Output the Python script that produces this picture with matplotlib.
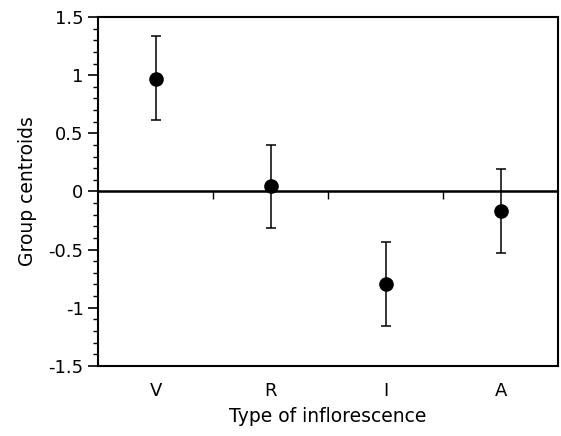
#!/usr/bin/env python3
"""Group centroids by type of inflorescence, with error bars."""

import matplotlib

matplotlib.use("Agg")
import matplotlib.pyplot as plt
from matplotlib.ticker import MultipleLocator, NullFormatter

categories = ["V", "R", "I", "A"]
centroids = [0.97, 0.05, -0.80, -0.17]
upper = [1.335, 0.40, -0.435, 0.195]
lower = [0.61, -0.315, -1.16, -0.53]


def main() -> int:
    positions = list(range(1, len(categories) + 1))
    err_low = [c - lo for c, lo in zip(centroids, lower)]
    err_high = [hi - c for c, hi in zip(centroids, upper)]

    fig = plt.figure(figsize=(5.61, 4.36), dpi=100)
    ax = fig.add_axes((0.175, 0.161, 0.82, 0.80))

    ax.axhline(0, color="black", linewidth=1.8, zorder=1)
    ax.errorbar(
        positions,
        centroids,
        yerr=[err_low, err_high],
        fmt="o",
        color="black",
        markersize=9.5,
        elinewidth=1.1,
        capsize=3.5,
        capthick=1.1,
        zorder=3,
    )

    ax.set_xlim(0.5, len(categories) + 0.5)
    ax.set_ylim(-1.5, 1.5)
    ax.yaxis.set_major_locator(MultipleLocator(0.5))
    ax.yaxis.set_minor_locator(MultipleLocator(0.1))
    ax.set_yticklabels([f"{v:g}" for v in ax.get_yticks()])
    ax.tick_params(axis="y", which="major", direction="out", length=7, width=1.2, labelsize=13)
    ax.tick_params(axis="y", which="minor", direction="out", length=3.5, width=1)

    ax.set_xticks(positions)
    ax.set_xticklabels(categories)
    ax.tick_params(axis="x", length=0, pad=12, labelsize=13)

    for spine in ax.spines.values():
        spine.set_linewidth(1.5)

    # group-boundary ticks hanging below the zero line
    zero = ax.secondary_xaxis(0.5)
    zero.set_xticks([p + 0.5 for p in positions[:-1]])
    zero.xaxis.set_major_formatter(NullFormatter())
    zero.tick_params(direction="in", length=6, width=1)

    ax.set_ylabel("Group centroids", fontsize=13.5, labelpad=8)
    ax.set_xlabel("Type of inflorescence", fontsize=13.5, labelpad=5)

    fig.savefig("out.png", dpi=100)
    plt.close(fig)
    return 0


if __name__ == "__main__":
    raise SystemExit(main())
